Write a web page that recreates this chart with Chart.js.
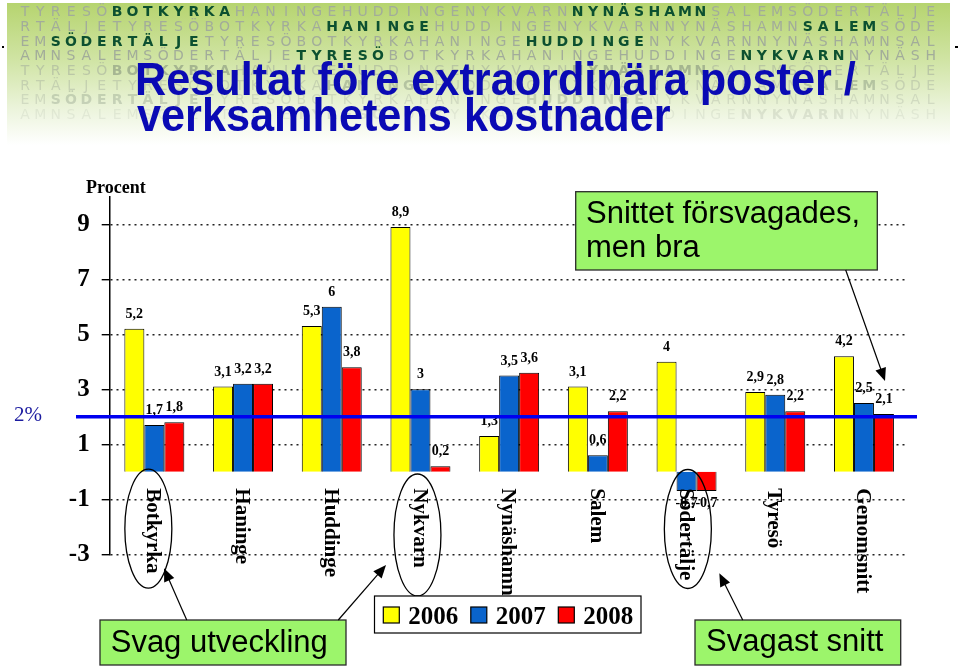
<!DOCTYPE html>
<html>
<head>
<meta charset="utf-8">
<script src="https://cdn.jsdelivr.net/npm/chart.js@4.4.1/dist/chart.umd.min.js"></script>
<style>
html, body { margin: 0; padding: 0; background: #fff; width: 960px; height: 666px; overflow: hidden; }
canvas { display: block; }
</style>
</head>
<body>
<canvas id="graph" width="960" height="666"></canvas>
<script>
// Data
var kommuner = ['Botkyrka', 'Haninge', 'Huddinge', 'Nykvarn', 'Nynäshamn', 'Salem', 'Södertälje', 'Tyresö', 'Genomsnitt'];
var years = ['2006', '2007', '2008'];
var values2006 = [5.2, 3.1, 5.3, 8.9, 1.3, 3.1, 4, 2.9, 4.2];
var values2007 = [1.7, 3.2, 6, 3, 3.5, 0.6, -0.7, 2.8, 2.5];
var values2008 = [1.8, 3.2, 3.8, 0.2, 3.6, 2.2, -0.7, 2.2, 2.1];
var yTicks = [-3, -1, 1, 3, 5, 7, 9];
var yMin = -3;
var yMax = 10;
var target = 2;

var barColors = ['#ffff00', '#0a64cc', '#ff0000'];
var serif = '"Liberation Serif", "Times New Roman", serif';
var sans = '"Liberation Sans", Arial, sans-serif';

// Banner text rows (decoration behind the title)
var bannerRows = [
    'TYRESÖBOTKYRKAHANINGEHUDDINGENYKVARNNYNÄSHAMNSALEMSÖDERTÄLJE',
    'RTÄLJETYRESÖBOTKYRKAHANINGEHUDDINGENYKVARNNYNÄSHAMNSALEMSÖDE',
    'EMSÖDERTÄLJETYRESÖBOTKYRKAHANINGEHUDDINGENYKVARNNYNÄSHAMNSAL',
    'AMNSALEMSÖDERTÄLJETYRESÖBOTKYRKAHANINGEHUDDINGENYKVARNNYNÄSH'
];
var bannerMarks = [[[6, 8], [36, 9]], [[20, 7], [51, 5]], [[2, 10], [33, 8]], [[18, 6], [47, 7]]];

function fmt(v) {
    return String(v).replace('.', ',');
}

function drawBanner(ctx) {
    ctx.save();
    var g = ctx.createLinearGradient(0, 3, 0, 145);
    g.addColorStop(0, '#b6d46f');
    g.addColorStop(0.4, '#d0e4a4');
    g.addColorStop(0.75, '#ecf4dc');
    g.addColorStop(1, '#ffffff');
    ctx.fillStyle = g;
    ctx.fillRect(7, 3, 943, 142);
    ctx.textAlign = 'center';
    ctx.textBaseline = 'middle';
    for (var r = 0; r < 8; r++) {
        var row = bannerRows[r % 4];
        var marks = bannerMarks[r % 4];
        var y = 12.7 + r * 14.65;
        var fade = [1, 1, 1, 1, 0.55, 0.42, 0.32, 0.18][r];
        for (var i = 0; i < row.length; i++) {
            var hi = false;
            marks.forEach(function (m) { if (i >= m[0] && i < m[0] + m[1]) hi = true; });
            ctx.globalAlpha = fade;
            if (hi && r < 4) {
                ctx.fillStyle = '#0c5030';
                ctx.font = 'bold 14px "DejaVu Sans", sans-serif';
            } else if (hi) {
                ctx.fillStyle = '#7d8c78';
                ctx.font = 'bold 14px "DejaVu Sans", sans-serif';
            } else {
                ctx.fillStyle = '#a2ac9a';
                ctx.font = '14px "DejaVu Sans", sans-serif';
            }
            ctx.fillText(row[i], 25 + i * 15.35, y);
        }
    }
    ctx.globalAlpha = 1;
    ctx.fillStyle = '#000';
    ctx.fillRect(2, 46, 2, 2);
    ctx.fillRect(955, 46, 3, 2);
    // Title
    ctx.fillStyle = '#0a0ab4';
    ctx.font = 'bold 47px ' + sans;
    ctx.textAlign = 'left';
    ctx.textBaseline = 'alphabetic';
    ctx.save();
    ctx.translate(135, 95);
    ctx.scale(0.92, 1);
    ctx.fillText('Resultat före extraordinära poster /', 0, 0);
    ctx.restore();
    ctx.save();
    ctx.translate(137, 131);
    ctx.scale(0.92, 1);
    ctx.fillText('verksamhetens kostnader', 0, 0);
    ctx.restore();
    ctx.restore();
}

function arrow(ctx, x1, y1, x2, y2) {
    var a = Math.atan2(y2 - y1, x2 - x1);
    var len = 13, w = 5.5;
    ctx.beginPath();
    ctx.moveTo(x1, y1);
    ctx.lineTo(x2 - Math.cos(a) * len * 0.8, y2 - Math.sin(a) * len * 0.8);
    ctx.stroke();
    ctx.beginPath();
    ctx.moveTo(x2, y2);
    ctx.lineTo(x2 - Math.cos(a) * len + Math.sin(a) * w, y2 - Math.sin(a) * len - Math.cos(a) * w);
    ctx.lineTo(x2 - Math.cos(a) * len - Math.sin(a) * w, y2 - Math.sin(a) * len + Math.cos(a) * w);
    ctx.closePath();
    ctx.fill();
}

function noteBox(ctx, x, y, w, h, lines, tx, baselines) {
    ctx.fillStyle = '#9cf56b';
    ctx.fillRect(x, y, w, h);
    ctx.strokeStyle = '#2a2a2a';
    ctx.lineWidth = 1.3;
    ctx.strokeRect(x, y, w, h);
    ctx.fillStyle = '#000';
    ctx.font = '31px ' + sans;
    ctx.textAlign = 'left';
    ctx.textBaseline = 'alphabetic';
    lines.forEach(function (t, i) { ctx.fillText(t, tx, baselines[i]); });
}

var decor = {
    id: 'decor',
    beforeDraw: function (chart) {
        drawBanner(chart.ctx);
    },
    afterDatasetsDraw: function (chart) {
        var ctx = chart.ctx;
        var xs = chart.scales.x, ys = chart.scales.y;
        ctx.save();
        // value labels
        ctx.fillStyle = '#000';
        ctx.font = 'bold 14px ' + serif;
        ctx.textAlign = 'center';
        ctx.textBaseline = 'middle';
        chart.data.datasets.forEach(function (ds, d) {
            chart.getDatasetMeta(d).data.forEach(function (el, i) {
                var v = ds.data[i];
                var y = v >= 0 ? el.y - 14.5 : el.y + 12;
                ctx.fillText(fmt(v), el.x, y);
            });
        });
        // 2% line
        var ty = ys.getPixelForValue(target);
        ctx.strokeStyle = '#0000f0';
        ctx.lineWidth = 3.5;
        ctx.beginPath();
        ctx.moveTo(76, ty);
        ctx.lineTo(917, ty);
        ctx.stroke();
        ctx.fillStyle = '#1c1ca0';
        ctx.font = '21px ' + serif;
        ctx.textAlign = 'left';
        ctx.textBaseline = 'alphabetic';
        ctx.fillText(target + '%', 14, ty + 4);
        // Category labels, rotated
        var zero = ys.getPixelForValue(0);
        ctx.fillStyle = '#000';
        ctx.font = 'bold 21px ' + serif;
        ctx.textBaseline = 'middle';
        kommuner.forEach(function (k, i) {
            ctx.save();
            ctx.translate(xs.getPixelForValue(i) - 1.5, zero + 16.5);
            ctx.rotate(Math.PI / 2);
            ctx.fillText(k, 0, 0);
            ctx.restore();
        });
        // Procent
        ctx.font = 'bold 18px ' + serif;
        ctx.textBaseline = 'alphabetic';
        ctx.fillText('Procent', 86, 193);
        ctx.restore();
    },
    afterDraw: function (chart) {
        var ctx = chart.ctx;
        var xs = chart.scales.x;
        ctx.save();
        // ellipses around weak municipalities
        ctx.strokeStyle = '#000';
        ctx.lineWidth = 1.3;
        [[0, -6, 528.7, 59.5], [3, -3, 535, 61], [6, 1.3, 529, 59.5]].forEach(function (e) {
            ctx.beginPath();
            ctx.ellipse(xs.getPixelForValue(e[0]) + e[1], e[2], 23.5, e[3], 0, 0, Math.PI * 2);
            ctx.stroke();
        });
        // notes
        noteBox(ctx, 575.7, 191.7, 301.6, 78.3, ['Snittet försvagades,', 'men bra'], 586, [223.3, 257.3]);
        noteBox(ctx, 100, 620, 246, 45, ['Svag utveckling'], 110.7, [651.7]);
        noteBox(ctx, 695, 620, 205.7, 45, ['Svagast snitt'], 706, [650.5]);
        ctx.strokeStyle = '#000';
        ctx.fillStyle = '#000';
        ctx.lineWidth = 1.2;
        arrow(ctx, 845.7, 270, 885, 381);
        arrow(ctx, 186.7, 620, 164, 568.3);
        arrow(ctx, 338.3, 620, 386, 565);
        arrow(ctx, 742.7, 620, 719.3, 573.3);
        // legend
        ctx.fillStyle = '#fff';
        ctx.fillRect(374.5, 596, 266.5, 37);
        ctx.strokeStyle = '#000';
        ctx.lineWidth = 1.2;
        ctx.strokeRect(374.5, 596, 266.5, 37);
        ctx.font = 'bold 25px ' + serif;
        ctx.textAlign = 'left';
        ctx.textBaseline = 'alphabetic';
        chart.data.datasets.forEach(function (ds, d) {
            var x = 383.3 + d * 87.5;
            ctx.fillStyle = ds.backgroundColor;
            ctx.fillRect(x, 607, 16, 16);
            ctx.strokeRect(x, 607, 16, 16);
            ctx.fillStyle = '#000';
            ctx.fillText(ds.label, x + 25, 624);
        });
        ctx.restore();
    }
};

var seriesValues = [values2006, values2007, values2008];
var datasets = years.map(function (yr, i) {
    return {
        label: yr,
        data: seriesValues[i],
        backgroundColor: barColors[i],
        borderColor: '#000',
        borderWidth: 1,
        barPercentage: 1,
        categoryPercentage: 0.676
    };
});

new Chart(document.getElementById('graph'), {
    type: 'bar',
    data: { labels: kommuner, datasets: datasets },
    options: {
        responsive: false,
        animation: false,
        devicePixelRatio: 1,
        layout: { padding: { top: 196.8, right: 51.7, bottom: 111.7, left: 0 } },
        plugins: { legend: { display: false }, tooltip: { enabled: false } },
        scales: {
            x: { display: false },
            y: {
                min: yMin,
                max: yMax,
                afterBuildTicks: function (axis) {
                    axis.ticks = yTicks.map(function (v) { return { value: v }; });
                },
                afterFit: function (axis) { axis.width = 110; },
                // in v4 border.dash styles the grid lines, not the axis line
                border: { display: true, color: '#000', width: 1.5, dash: [2, 4] },
                grid: {
                    color: '#222',
                    lineWidth: 1.4,
                    tickColor: '#000',
                    tickBorderDash: [],
                    tickLength: 8.3,
                    tickWidth: 1.4
                },
                ticks: {
                    color: '#000',
                    padding: 12,
                    font: { family: 'Liberation Serif', size: 25, weight: 'bold' },
                    callback: function (v) { return v; }
                }
            }
        }
    },
    plugins: [decor]
});
</script>
</body>
</html>
